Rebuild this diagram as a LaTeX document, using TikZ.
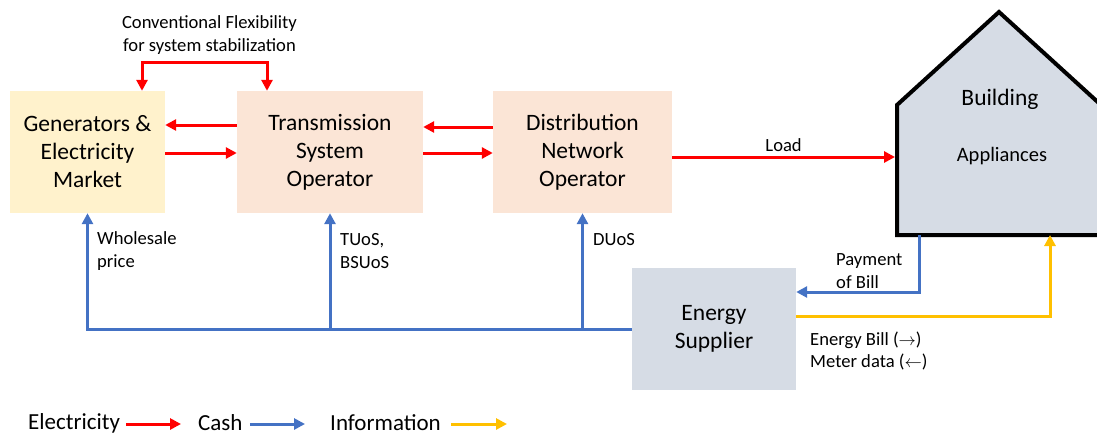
\documentclass[tikz,border=0pt]{standalone}
\usepackage{fontspec}
\setmainfont{Carlito}
\usetikzlibrary{arrows.meta,positioning}

\definecolor{genfill}{HTML}{FFF2CC}
\definecolor{opfill}{HTML}{FBE5D6}
\definecolor{supfill}{HTML}{D6DCE5}
\definecolor{elec}{HTML}{FF0000}
\definecolor{cash}{HTML}{4472C4}
\definecolor{info}{HTML}{FFC000}

\begin{document}
\begin{tikzpicture}[x=1pt, y=-1pt,
    box/.style={inner sep=0pt, align=center, minimum height=122pt, font=\fontsize{23.5}{28}\selectfont},
    lbl/.style={inner sep=0pt, align=left, text=black, font=\fontsize{18.6}{22.5}\selectfont},
    leg/.style={inner sep=0pt, font=\fontsize{23}{26}\selectfont},
    flow/.style={line width=3pt, >={Triangle[length=11pt, width=11pt]}, ->}
]
  \clip (0,0) rectangle (1097,436);

  % Market and network operators
  \node[box, fill=genfill, minimum width=155pt] (gen) at (87.5,152) {Generators \&\\Electricity\\Market};
  \node[box, fill=opfill, minimum width=186pt] (tso) at (330,152) {Transmission\\System\\Operator};
  \node[box, fill=opfill, minimum width=179pt] (dno) at (582.5,152) {Distribution\\Network\\Operator};
  \node[box, fill=supfill, minimum width=164pt] (sup) at (714,329) {Energy\\Supplier};

  % Building
  \draw[line width=4pt, fill=supfill, line join=miter] (897,235) -- (897,105) -- (999,12) -- (1101,105) -- (1101,235) -- cycle;
  \node[inner sep=0pt, font=\fontsize{23.5}{28}\selectfont] (bldg) at (1000,99) {Building};
  \node[inner sep=0pt, font=\fontsize{20.5}{24}\selectfont] (appl) at (1002,156) {Appliances};
  \coordinate (bldg-load) at (895,157);
  \coordinate (bldg-pay) at (919,235);
  \coordinate (bldg-info) at (1050,235);

  % Electricity
  \draw[flow, elec] ([yshift=27pt]tso.west) -- ([yshift=27pt]gen.east);
  \draw[flow, elec] ([yshift=-1pt]gen.east) -- ([yshift=-1pt]tso.west);
  \draw[flow, elec] ([yshift=25pt]dno.west) -- ([yshift=25pt]tso.east);
  \draw[flow, elec] ([yshift=-1pt]tso.east) -- ([yshift=-1pt]dno.west);
  \draw[flow, elec] ([yshift=-5pt]dno.east) -- node[lbl, above=4pt, pos=0.5]{Load} (bldg-load);
  \draw[flow, elec, <->] ([xshift=54.5pt]gen.north) -- ++(0,-28) -| ([xshift=-63pt]tso.north);
  \node[lbl, align=center] (flex) at (209.5,35) {Conventional Flexibility\\for system stabilization};

  % Cash
  \draw[flow, cash] (sup.west) -| (gen.south);
  \draw[flow, cash] (sup.west -| tso.south) -- (tso.south);
  \draw[flow, cash] (sup.west -| dno.south) -- (dno.south);
  \draw[flow, cash] (bldg-pay) |- ([yshift=37pt]sup.east);
  \node[lbl, anchor=west] (whole) at (97,251) {Wholesale\\price};
  \node[lbl, anchor=west] (tuos) at (340,251) {TUoS,\\BSUoS};
  \node[lbl, anchor=west] (duos) at (593,240) {DUoS};
  \node[lbl, anchor=west] (pay) at (836,271) {Payment\\of Bill};

  % Information
  \draw[flow, info] ([yshift=13pt]sup.east) -| (bldg-info);
  \node[lbl, anchor=west] (bill) at (810,351) {Energy Bill ($\rightarrow$)\\Meter data ($\leftarrow$)};

  % Legend
  \node[leg, anchor=west] (leg-elec) at (28,423) {Electricity};
  \node[leg, anchor=west] (leg-cash) at (198,423) {Cash};
  \node[leg, anchor=west] (leg-info) at (330,423) {Information};
  \coordinate (end-elec) at (181,424);
  \coordinate (end-cash) at (305,424);
  \coordinate (end-info) at (507,424);
  \draw[flow, elec] (leg-elec.east |- end-elec) ++(6,0) -- (end-elec);
  \draw[flow, cash] (leg-cash.east |- end-cash) ++(7,0) -- (end-cash);
  \draw[flow, info] (leg-info.east |- end-info) ++(10,0) -- (end-info);
\end{tikzpicture}
\end{document}
